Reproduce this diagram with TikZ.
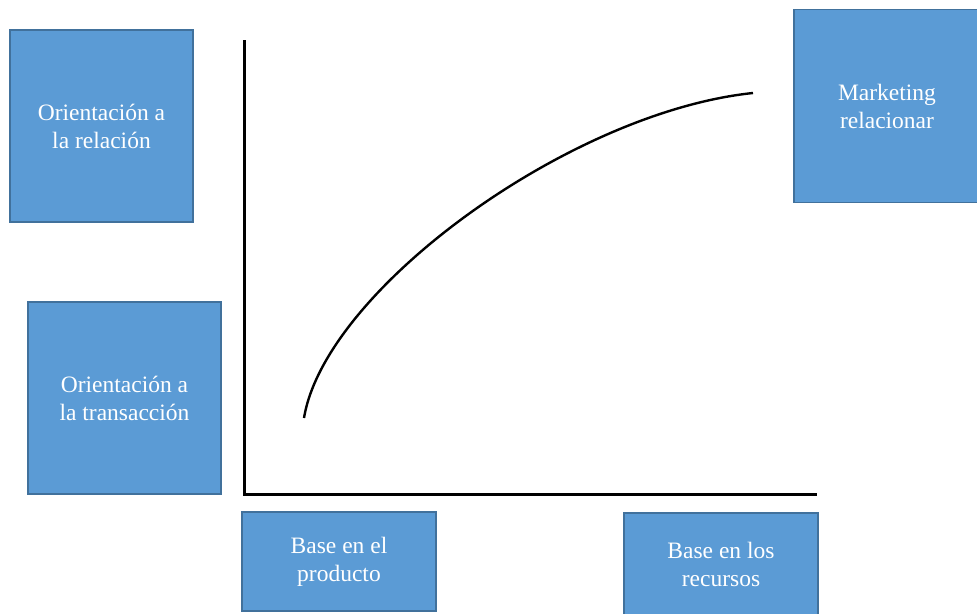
\documentclass[tikz,border=0pt]{standalone}
\usepackage{fontspec}
\setmainfont{Liberation Serif}
\newfontfamily\letraserif{Liberation Serif}
\definecolor{cajaazul}{HTML}{5B9BD5}
\definecolor{bordeazul}{HTML}{41719C}

\begin{document}
\begin{tikzpicture}[x=1pt, y=-1pt,
   caja/.style={rectangle, draw=bordeazul, fill=cajaazul, line width=1.6pt,
      text=white, align=center, inner sep=0pt,
      font=\letraserif\fontsize{23.5}{28}\selectfont},
   eje/.style={line width=3pt}]
   \useasboundingbox (0,0) rectangle (977,613);
   \node[caja, minimum width=183pt, minimum height=192pt] (relacion) at (101.5,126) {Orientación a\\la relación};
   \node[caja, minimum width=193pt, minimum height=192pt] (transaccion) at (124.5,398) {Orientación a\\la transacción};
   \node[caja, minimum width=186pt, minimum height=193pt] (marketing) at (887,106) {Marketing\\relacionar};
   \node[caja, minimum width=194pt, minimum height=99pt] (producto) at (339,561.5) {Base en el\\producto};
   \node[caja, minimum width=194pt, minimum height=102pt] (recursos) at (721,564) {Base en los\\recursos};
   \coordinate (arriba) at (244,40);
   \coordinate (origen) at (244,494);
   \coordinate (derecha) at (817,494);
   \draw[eje] (arriba) -- (origen) -- (derecha);
   \coordinate (inicio) at (304,418);
   \coordinate (fin) at (753,93);
   \draw[line width=2.4pt] (inicio) .. controls (325,290) and (570,112) .. (fin);
\end{tikzpicture}
\end{document}
